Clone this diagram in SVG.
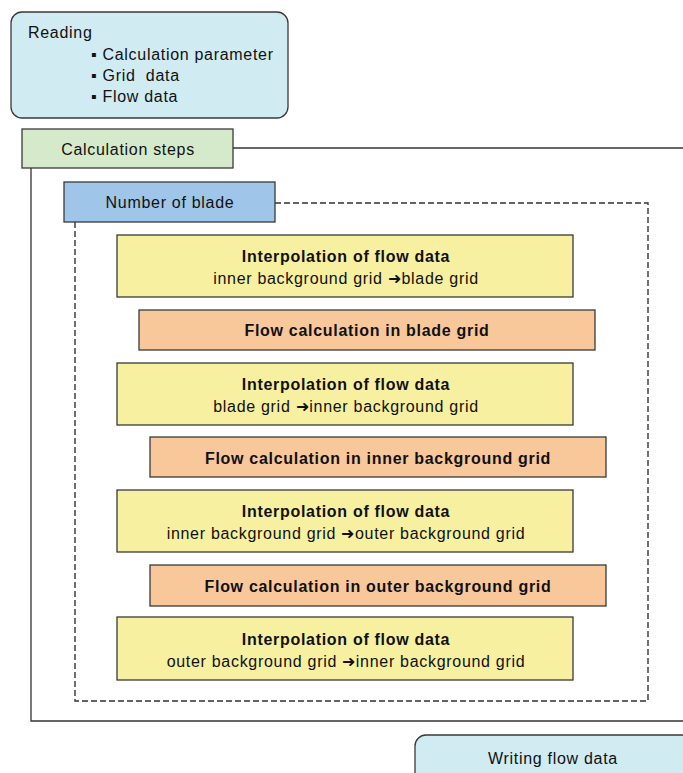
<svg xmlns="http://www.w3.org/2000/svg" width="683" height="773" viewBox="0 0 683 773">
  <style>
    .box { stroke: #3a3a3a; stroke-width: 1.3; }
    .read { fill: #d0ebf1; }
    .steps { fill: #d5eacb; }
    .blade { fill: #9fc5e8; }
    .interp { fill: #f6f0a0; }
    .calc { fill: #f8c89b; }
    .t { font-family: "Liberation Sans", Arial, sans-serif; font-size: 16px; letter-spacing: 0.7px; fill: #111; }
    .b { font-weight: bold; }
    .mid { text-anchor: middle; }
    .solid { fill: none; stroke: #333; stroke-width: 1.3; }
    .dash { fill: none; stroke: #333; stroke-width: 1.4; stroke-dasharray: 6 3; }
  </style>
  <rect width="683" height="773" fill="#ffffff"/>

  <!-- frames and connectors -->
  <g id="connectors">
    <polyline class="solid" points="233,148 683,148"/>
    <polyline class="solid" points="31,168 31,721 683,721"/>
    <polyline class="dash" points="275,203 648,203 648,701 75,701 75,222"/>
  </g>

  <g id="reading">
    <rect class="box read" x="11" y="12" width="277" height="106" rx="11"/>
    <text class="t" x="28" y="38">Reading</text>
    <text class="t" x="91" y="60">▪ Calculation parameter</text>
    <text class="t" x="91" y="81">▪ Grid&#160; data</text>
    <text class="t" x="91" y="102">▪ Flow data</text>
  </g>

  <g id="calc-steps">
    <rect class="box steps" x="22" y="129" width="211" height="39"/>
    <text class="t mid" x="128" y="155">Calculation steps</text>
  </g>

  <g id="blade-count">
    <rect class="box blade" x="64" y="182" width="211" height="40"/>
    <text class="t mid" x="170" y="208">Number of blade</text>
  </g>

  <g id="interp-1">
    <rect class="box interp" x="117" y="235" width="456" height="62"/>
    <text class="t b mid" x="346" y="262">Interpolation of flow data</text>
    <text class="t mid" x="346" y="284">inner background grid ➜blade grid</text>
  </g>

  <g id="flow-blade">
    <rect class="box calc" x="139" y="310" width="456" height="40"/>
    <text class="t b mid" x="367" y="336">Flow calculation in blade grid</text>
  </g>

  <g id="interp-2">
    <rect class="box interp" x="117" y="363" width="456" height="62"/>
    <text class="t b mid" x="346" y="390">Interpolation of flow data</text>
    <text class="t mid" x="346" y="412">blade grid ➜inner background grid</text>
  </g>

  <g id="flow-inner">
    <rect class="box calc" x="150" y="437" width="456" height="40"/>
    <text class="t b mid" x="378" y="464">Flow calculation in inner background grid</text>
  </g>

  <g id="interp-3">
    <rect class="box interp" x="117" y="490" width="456" height="62"/>
    <text class="t b mid" x="346" y="517">Interpolation of flow data</text>
    <text class="t mid" x="346" y="539">inner background grid ➜outer background grid</text>
  </g>

  <g id="flow-outer">
    <rect class="box calc" x="150" y="565" width="456" height="41"/>
    <text class="t b mid" x="378" y="592">Flow calculation in outer background grid</text>
  </g>

  <g id="interp-4">
    <rect class="box interp" x="117" y="617" width="456" height="63"/>
    <text class="t b mid" x="346" y="645">Interpolation of flow data</text>
    <text class="t mid" x="346" y="667">outer background grid ➜inner background grid</text>
  </g>

  <g id="writing">
    <rect class="box read" x="415" y="735" width="290" height="60" rx="11"/>
    <text class="t mid" x="553" y="764">Writing flow data</text>
  </g>
</svg>
